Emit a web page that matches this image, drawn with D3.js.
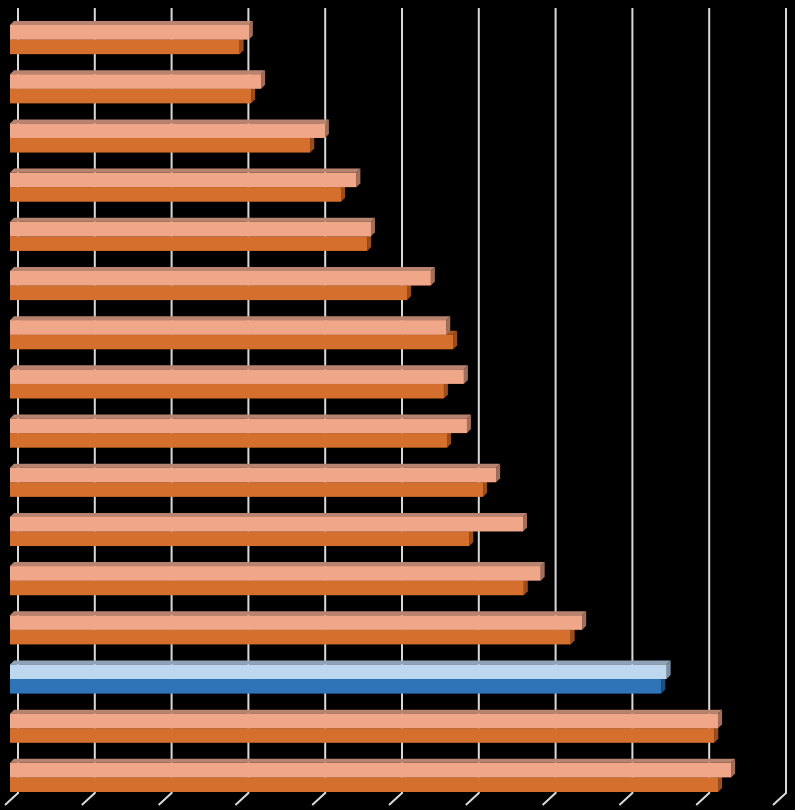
<!DOCTYPE html>
<html>
<head>
<meta charset="utf-8">
<script src="https://cdn.jsdelivr.net/npm/d3@7"></script>
<style>
  html, body { margin: 0; padding: 0; background: #000; }
  svg { display: block; }
</style>
</head>
<body>
<div id="chart"></div>
<script>
// categories top to bottom (the chart shows no labels)
const categories = d3.range(1, 17).map(String);
// light (upper) bar of each pair
const series1 = [31.1, 32.7, 41.0, 45.1, 47.0, 54.8, 56.8, 59.1, 59.5, 63.3, 66.8, 69.1, 74.5, 85.5, 92.2, 93.9];
// dark (lower) bar of each pair
const series2 = [29.9, 31.4, 39.1, 43.1, 46.5, 51.7, 57.7, 56.5, 56.9, 61.6, 59.8, 66.9, 73.0, 84.8, 91.7, 92.2];
// highlighted category (blue)
const highlight = '14';

const width = 795, height = 810;

const svg = d3.select('#chart')
  .append('svg')
  .attr('width', width)
  .attr('height', height)
  .style('background', '#000');

// back wall scale; the bars sit a bit in front (shifted left)
const x = d3.scaleLinear().domain([0, 100]).range([18, 786]);
const front = 8;      // front offset of the bar faces
const depth = 4;      // bar depth in the oblique view
const floorDx = -13, floorDy = 12;

const y = d3.scaleBand()
  .domain(categories)
  .range([15, 802])
  .paddingInner(0.407)
  .paddingOuter(0.2035);

const ySub = d3.scaleBand()
  .domain(['s1', 's2'])
  .range([0, y.bandwidth()]);

// gridlines on the back wall
const gridTop = 8, gridBottom = 793;
const grid = svg.append('g').attr('class', 'grid');
grid.selectAll('path')
  .data(x.ticks(10))
  .enter().append('path')
  .attr('d', d => `M${x(d)},${gridTop}V${gridBottom}l${floorDx},${floorDy}`)
  .attr('fill', 'none')
  .attr('stroke', '#d9d9d9')
  .attr('stroke-width', 2);

const colors = {
  s1: { front: '#f0a688', top: '#b8846f', side: '#a0705c' },
  s2: { front: '#d56f2e', top: '#a85624', side: '#9a4e1f' },
  h1: { front: '#bdd7ee', top: '#8fa3b8', side: '#7d90a4' },
  h2: { front: '#2e74b6', top: '#255d92', side: '#1f4f7c' }
};

const bars = [];
categories.forEach((c, i) => {
  const hi = c === highlight;
  // dark first, light on top of it
  bars.push({ cat: c, key: 's2', value: series2[i], col: hi ? colors.h2 : colors.s2 });
  bars.push({ cat: c, key: 's1', value: series1[i], col: hi ? colors.h1 : colors.s1 });
});

const g = svg.append('g').attr('class', 'bars');

const bar = g.selectAll('g.bar')
  .data(bars)
  .enter().append('g')
  .attr('class', 'bar');

function geom(d) {
  const x0 = x(0) - front,
    x1 = x(d.value) - front,
    y0 = y(d.cat) + ySub(d.key),
    h = ySub.bandwidth();
  return { x0, x1, y0, h };
}

// top face
bar.append('path')
  .attr('d', d => {
    const b = geom(d);
    return `M${b.x0},${b.y0}L${b.x0 + depth},${b.y0 - depth}L${b.x1 + depth},${b.y0 - depth}L${b.x1},${b.y0}Z`;
  })
  .attr('fill', d => d.col.top);

// right side face
bar.append('path')
  .attr('d', d => {
    const b = geom(d);
    return `M${b.x1},${b.y0}L${b.x1 + depth},${b.y0 - depth}L${b.x1 + depth},${b.y0 + b.h - depth}L${b.x1},${b.y0 + b.h}Z`;
  })
  .attr('fill', d => d.col.side);

// front face
bar.append('rect')
  .attr('x', d => geom(d).x0)
  .attr('y', d => geom(d).y0)
  .attr('width', d => geom(d).x1 - geom(d).x0)
  .attr('height', d => geom(d).h)
  .attr('fill', d => d.col.front);
</script>
</body>
</html>
